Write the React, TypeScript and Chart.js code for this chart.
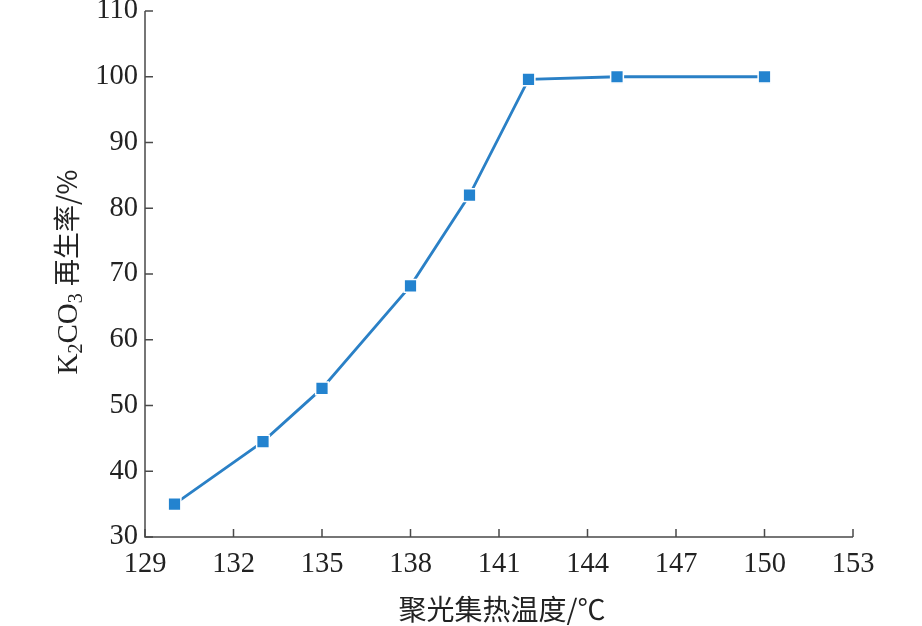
import React, { useEffect, useRef } from "react";
import { Chart, registerables } from "chart.js";
Chart.register(...registerables);

const temperatures = [130, 133, 135, 138, 140, 142, 145, 150];
const regenRates = [35, 44.5, 52.6, 68.2, 82, 99.6, 100, 100];
const xTicks = [129, 132, 135, 138, 141, 144, 147, 150, 153];
const yTicks = [30, 40, 50, 60, 70, 80, 90, 100, 110];
const xTitle = "聚光集热温度/℃";

const SERIF = "'Liberation Serif', 'DejaVu Serif', serif";
const CJK = "'Noto Sans CJK SC', sans-serif";
const AXIS = "#4a4a4a";
const TEXT = "#222";

const axesPlugin = {
  id: "axesPlugin",
  afterDraw(chart: any) {
    const ctx = chart.ctx;
    const xs = chart.scales.x;
    const ys = chart.scales.y;
    const area = chart.chartArea;
    ctx.save();
    ctx.strokeStyle = AXIS;
    ctx.lineWidth = 1.5;
    ctx.beginPath();
    ctx.moveTo(area.left, area.top);
    ctx.lineTo(area.left, area.bottom);
    ctx.lineTo(area.right, area.bottom);
    ctx.stroke();
    ctx.beginPath();
    for (const v of xTicks) {
      const px = xs.getPixelForValue(v);
      ctx.moveTo(px, area.bottom);
      ctx.lineTo(px, area.bottom - 8);
    }
    for (const v of yTicks) {
      const py = ys.getPixelForValue(v);
      ctx.moveTo(area.left, py);
      ctx.lineTo(area.left + 8, py);
    }
    ctx.stroke();
    ctx.fillStyle = TEXT;
    ctx.font = `28.5px ${SERIF}`;
    ctx.textAlign = "center";
    ctx.textBaseline = "middle";
    for (const v of xTicks) {
      ctx.fillText(String(v), xs.getPixelForValue(v), area.bottom + 28);
    }
    ctx.textAlign = "right";
    for (const v of yTicks) {
      ctx.fillText(String(v), area.left - 7, ys.getPixelForValue(v));
    }
    ctx.textAlign = "center";
    ctx.font = `28px ${CJK}`;
    ctx.fillText(xTitle, 502, 609);
    const parts: [string, string, boolean][] = [
      ["K", SERIF, false],
      ["2", SERIF, true],
      ["CO", SERIF, false],
      ["3", SERIF, true],
      [" ", SERIF, false],
      ["再生率/%", CJK, false],
    ];
    const measure = (p: [string, string, boolean]) => {
      ctx.font = p[2] ? `20px ${p[1]}` : p[1] === CJK ? `27px ${p[1]}` : `29px ${p[1]}`;
      return ctx.measureText(p[0]).width;
    };
    let total = 0;
    for (const p of parts) total += measure(p);
    ctx.translate(67, 272);
    ctx.rotate(-Math.PI / 2);
    ctx.textAlign = "left";
    ctx.textBaseline = "alphabetic";
    let x = -total / 2;
    for (const p of parts) {
      const w = measure(p);
      ctx.fillText(p[0], x, p[2] ? 15 : 10);
      x += w;
    }
    ctx.restore();
  },
};

export default function App() {
  const ref = useRef<HTMLCanvasElement>(null);
  useEffect(() => {
    document.body.style.margin = "0";
    const chart = new Chart(ref.current!, {
      type: "line",
      data: {
        datasets: [
          {
            data: temperatures.map((t, i) => ({ x: t, y: regenRates[i] })),
            borderColor: "#2a80c6",
            borderWidth: 2.8,
            backgroundColor: "#2383cf",
            pointStyle: "rect",
            pointRadius: 9,
            pointBorderColor: "#ffffff",
            pointBorderWidth: 1.5,
            tension: 0,
          },
        ],
      },
      options: {
        responsive: false,
        animation: false,
        layout: { padding: { left: 0, right: 69, top: 11, bottom: 0 } },
        plugins: { legend: { display: false }, tooltip: { enabled: false } },
        scales: {
          x: {
            type: "linear",
            min: 129,
            max: 153,
            ticks: { display: false, stepSize: 3 },
            grid: { display: false },
            border: { display: false },
            afterFit: (s: any) => { s.height = 89; },
          },
          y: {
            min: 30,
            max: 110,
            ticks: { display: false, stepSize: 10 },
            grid: { display: false },
            border: { display: false },
            afterFit: (s: any) => { s.width = 145; },
          },
        },
      },
      plugins: [axesPlugin],
    });
    return () => chart.destroy();
  }, []);
  return (
    <canvas
      ref={ref}
      width={922}
      height={626}
      style={{ display: "block", width: 922, height: 626 }}
    />
  );
}
